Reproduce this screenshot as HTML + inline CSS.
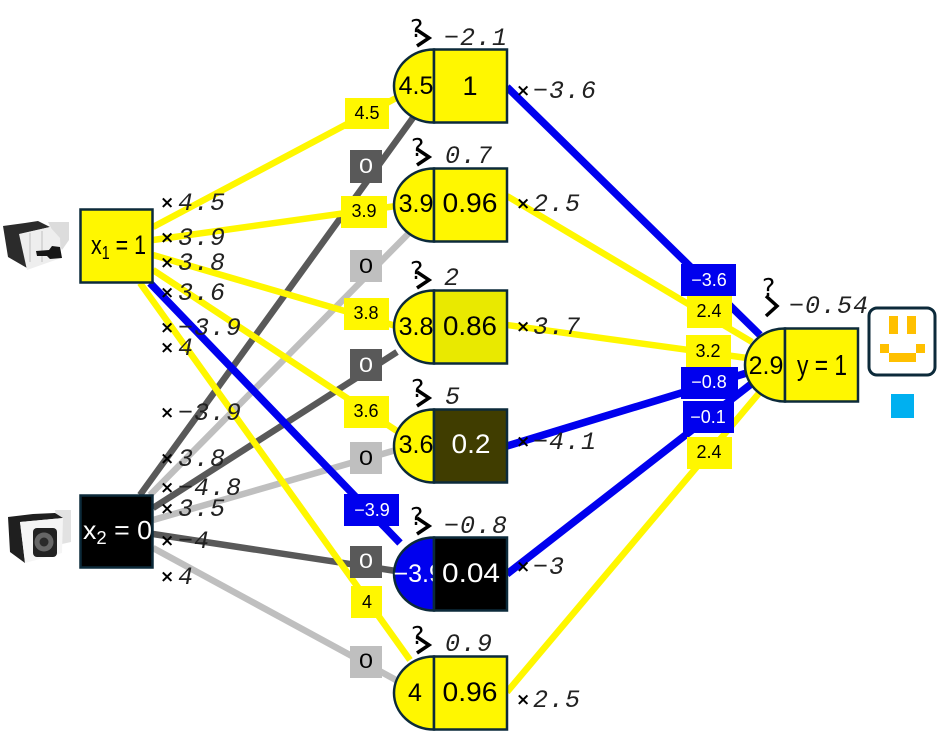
<!DOCTYPE html>
<html><head><meta charset="utf-8"><style>
html,body{margin:0;padding:0;background:#fff;width:937px;height:732px;overflow:hidden}
svg{display:block}
text{font-family:"Liberation Sans",sans-serif}
.w{font-family:"Liberation Mono",monospace;font-style:italic;font-size:25px;letter-spacing:1px;fill:#222}
.x{font-size:17px;font-weight:bold;fill:#000;font-family:"DejaVu Sans",sans-serif}
.q{font-size:25px;fill:#000;font-family:"DejaVu Sans",sans-serif}
.l{font-size:18px;text-anchor:middle}
.z{font-size:21px;text-anchor:middle}
.n{font-size:27px;text-anchor:middle}
.b{font-size:25px;text-anchor:middle}
.e{fill:none;stroke-width:6.500}
.s{fill:none;stroke:#000;stroke-width:3.500}
.st{stroke:#0c2a3a;stroke-width:2.500}
</style></head><body>
<svg width="937" height="732" viewBox="0 0 937 732" xmlns="http://www.w3.org/2000/svg">
<!-- edges -->
<g class="e">
<line x1="140" y1="495" x2="415" y2="115" stroke="#595959"/>
<line x1="150" y1="495" x2="410" y2="232" stroke="#bfbfbf"/>
<line x1="153" y1="508" x2="397" y2="352" stroke="#595959"/>
<line x1="153" y1="520" x2="396" y2="450" stroke="#bfbfbf"/>
<line x1="153" y1="534" x2="396" y2="571" stroke="#595959"/>
<line x1="153" y1="548" x2="396" y2="680" stroke="#bfbfbf"/>
<line x1="153" y1="227" x2="398" y2="97" stroke="#fff700"/>
<line x1="153" y1="240" x2="396" y2="206" stroke="#fff700"/>
<line x1="153" y1="255" x2="396" y2="326" stroke="#fff700"/>
<line x1="153" y1="270" x2="400" y2="433" stroke="#fff700"/>
<line x1="140" y1="283" x2="410" y2="660" stroke="#fff700"/>
<line x1="150" y1="283" x2="400" y2="543" stroke="#0000ee" stroke-width="7.500"/>
<line x1="507" y1="87" x2="760" y2="335" stroke="#0000ee" stroke-width="7.500"/>
<line x1="507" y1="196" x2="752" y2="342" stroke="#fff700"/>
<line x1="507" y1="325" x2="747" y2="358" stroke="#fff700"/>
<line x1="507" y1="446" x2="750" y2="372" stroke="#0000ee" stroke-width="7.500"/>
<line x1="507" y1="574" x2="755" y2="381" stroke="#0000ee" stroke-width="7.500"/>
<line x1="507" y1="692" x2="760" y2="392" stroke="#fff700"/>
</g>
<!-- sensor 1 -->
<g>
<path d="M48 222H69V240L62 250Z" fill="#dcdcdc"/>
<path d="M3 226L25 223L38 221L50 227L20 234L27 268L8 257Z" fill="#2b2b2b"/>
<path d="M19 234L50 227L60 238L61 258L27 270Z" fill="#eeeeee"/>
<path d="M30 233V262M42 231V262" stroke="#cfcfcf" stroke-width="1.500"/>
<path d="M36 251L49 250L52 246L60 247L62 258L50 259L47 256L37 256Z" fill="#151515"/>
</g>
<!-- sensor 2 -->
<g>
<path d="M55 510H71V542L62 544Z" fill="#e2e2e2"/>
<path d="M8 517L33 514L55 513L63 518L20 522L25 563L10 552Z" fill="#1f1f1f"/>
<path d="M20 522L63 518L62 553L25 563Z" fill="#f5f5f5"/>
<rect x="33" y="528" width="24" height="29" rx="4" fill="#222"/>
<circle cx="44" cy="542" r="9.500" fill="#666"/>
<circle cx="44" cy="542" r="4.500" fill="#2a2a2a"/>
</g>
<!-- inputs -->
<rect x="80.500" y="209.500" width="72" height="73" fill="#fff700" class="st"/>
<text x="91" y="254" font-size="27" textLength="55" lengthAdjust="spacingAndGlyphs" fill="#000">x<tspan font-size="18" dy="5">1</tspan><tspan dy="-5"> = 1</tspan></text>
<rect x="80.500" y="495.500" width="72" height="72" fill="#000" class="st"/>
<text x="83" y="539" font-size="26" textLength="69" lengthAdjust="spacingAndGlyphs" fill="#fff">x<tspan font-size="18" dy="5">2</tspan><tspan dy="-5"> = 0</tspan></text>
<!-- neurons -->
<g class="st">
<path d="M434 49.500A40 36.500 0 0 0 434 122.500Z" fill="#fff700"/><rect x="434" y="49.500" width="73" height="73" fill="#fff700"/>
<path d="M434 168.500A40 36.500 0 0 0 434 241.500Z" fill="#fff700"/><rect x="434" y="168.500" width="73" height="73" fill="#fff700"/>
<path d="M434 290.500A40 36.500 0 0 0 434 363.500Z" fill="#fff700"/><rect x="434" y="290.500" width="73" height="73" fill="#e9e900"/>
<path d="M434 409.500A40 36.500 0 0 0 434 482.500Z" fill="#fff700"/><rect x="434" y="409.500" width="73" height="73" fill="#403d00"/>
<path d="M434 537.500A40 36.500 0 0 0 434 610.500Z" fill="#0000ee"/>
<text x="393.500" y="582" font-size="25" fill="#fff" stroke="none">−3.9</text>
<rect x="434" y="537.500" width="73" height="73" fill="#000"/>
<path d="M434 656.500A40 36.500 0 0 0 434 729.500Z" fill="#fff700"/><rect x="434" y="656.500" width="73" height="73" fill="#fff700"/>
<path d="M785 328.500A40 36.500 0 0 0 785 401.500Z" fill="#fff700"/><rect x="785" y="328.500" width="73" height="73" fill="#fff700"/>
</g>
<!-- neuron text -->
<g>
<text class="b" x="416" y="94">4.5</text>
<text class="b" x="416" y="212">3.9</text>
<text class="b" x="416" y="335">3.8</text>
<text class="b" x="416" y="453">3.6</text>
<text class="b" x="415" y="701">4</text>
<text class="b" x="766" y="374">2.9</text>
</g>
<text class="n" x="470" y="95">1</text>
<text class="n" x="470" y="212" textLength="55" lengthAdjust="spacingAndGlyphs">0.96</text>
<text class="n" x="470" y="335" textLength="54" lengthAdjust="spacingAndGlyphs">0.86</text>
<text class="n" x="471" y="453" fill="#fff" textLength="39" lengthAdjust="spacingAndGlyphs">0.2</text>
<text class="n" x="471" y="582" fill="#fff" textLength="58" lengthAdjust="spacingAndGlyphs">0.04</text>
<text class="n" x="470" y="701" textLength="55" lengthAdjust="spacingAndGlyphs">0.96</text>
<text x="822" y="375" font-size="29" text-anchor="middle" textLength="50" lengthAdjust="spacingAndGlyphs">y = 1</text>
<!-- sigma marks -->
<g>
<text class="q" x="410" y="37">?</text><polyline class="s" points="417,30 429,38 417,46"/>
<text class="q" x="411" y="156">?</text><polyline class="s" points="417,149 429,157 417,165"/>
<text class="q" x="410" y="279">?</text><polyline class="s" points="417,272 429,280 417,288"/>
<text class="q" x="411" y="397">?</text><polyline class="s" points="417,390 429,398 417,406"/>
<text class="q" x="410" y="525">?</text><polyline class="s" points="417,518 429,526 417,534"/>
<text class="q" x="411" y="644">?</text><polyline class="s" points="417,637 429,645 417,653"/>
<text class="q" x="762" y="296">?</text><polyline class="s" points="766,296 777,306 766,316"/>
</g>
<!-- bias -->
<g>
<text class="w" x="444" y="45">−2.1</text>
<text class="w" x="445" y="163">0.7</text>
<text class="w" x="444" y="285">2</text>
<text class="w" x="445" y="404">5</text>
<text class="w" x="444" y="533">−0.8</text>
<text class="w" x="445" y="651">0.9</text>
<text class="w" x="789" y="313">−0.54</text>
</g>
<!-- weights -->
<g>
<text class="x" x="160" y="208">×</text><text class="w" x="178" y="210">4.5</text>
<text class="x" x="160" y="243">×</text><text class="w" x="178" y="245">3.9</text>
<text class="x" x="160" y="268">×</text><text class="w" x="178" y="270">3.8</text>
<text class="x" x="160" y="298">×</text><text class="w" x="178" y="300">3.6</text>
<text class="x" x="160" y="333">×</text><text class="w" x="178" y="335">−3.9</text>
<text class="x" x="160" y="353">×</text><text class="w" x="178" y="355">4</text>
<text class="x" x="160" y="418">×</text><text class="w" x="178" y="420">−3.9</text>
<text class="x" x="160" y="464">×</text><text class="w" x="178" y="466">3.8</text>
<text class="x" x="160" y="493">×</text><text class="w" x="178" y="495">−4.8</text>
<text class="x" x="160" y="514">×</text><text class="w" x="178" y="516">3.5</text>
<text class="x" x="160" y="546">×</text><text class="w" x="178" y="548">−4</text>
<text class="x" x="160" y="582">×</text><text class="w" x="178" y="584">4</text>
<text class="x" x="516" y="96">×</text><text class="w" x="533" y="98">−3.6</text>
<text class="x" x="516" y="209">×</text><text class="w" x="533" y="211">2.5</text>
<text class="x" x="516" y="332">×</text><text class="w" x="533" y="334">3.7</text>
<text class="x" x="516" y="447">×</text><text class="w" x="533" y="449">−4.1</text>
<text class="x" x="516" y="572">×</text><text class="w" x="533" y="574">−3</text>
<text class="x" x="516" y="705">×</text><text class="w" x="533" y="707">2.5</text>
</g>
<!-- labels -->
<g>
<rect x="345" y="98" width="44" height="31" fill="#fff700"/><text class="l" x="367" y="119">4.5</text>
<rect x="350" y="150" width="32" height="33" fill="#595959"/><text class="z" x="366" y="173" fill="#fff" textLength="14" lengthAdjust="spacingAndGlyphs">0</text>
<rect x="341" y="196" width="46" height="32" fill="#fff700"/><text class="l" x="364" y="217">3.9</text>
<rect x="350" y="250" width="32" height="32" fill="#bfbfbf"/><text class="z" x="366" y="273" textLength="14" lengthAdjust="spacingAndGlyphs">0</text>
<rect x="344" y="298" width="45" height="32" fill="#fff700"/><text class="l" x="366" y="319">3.8</text>
<rect x="350" y="349" width="32" height="32" fill="#595959"/><text class="z" x="366" y="372" fill="#fff" textLength="14" lengthAdjust="spacingAndGlyphs">0</text>
<rect x="344" y="396" width="45" height="32" fill="#fff700"/><text class="l" x="366" y="417">3.6</text>
<rect x="350" y="442" width="32" height="32" fill="#bfbfbf"/><text class="z" x="366" y="465" textLength="14" lengthAdjust="spacingAndGlyphs">0</text>
<rect x="344" y="494" width="55" height="32" fill="#0000ee"/><text class="l" x="372" y="516" fill="#fff">−3.9</text>
<rect x="350" y="546" width="32" height="32" fill="#595959"/><text class="z" x="366" y="568" fill="#fff" textLength="14" lengthAdjust="spacingAndGlyphs">0</text>
<rect x="351" y="586" width="31" height="32" fill="#fff700"/><text class="l" x="367" y="608">4</text>
<rect x="350" y="646" width="32" height="32" fill="#bfbfbf"/><text class="z" x="366" y="668" textLength="14" lengthAdjust="spacingAndGlyphs">0</text>
<rect x="681" y="264" width="55" height="32" fill="#0000ee"/><text class="l" x="709" y="286" fill="#fff">−3.6</text>
<rect x="687" y="296" width="45" height="32" fill="#fff700"/><text class="l" x="709" y="317">2.4</text>
<rect x="686" y="335" width="45" height="32" fill="#fff700"/><text class="l" x="708" y="357">3.2</text>
<rect x="681" y="367" width="57" height="32" fill="#0000ee"/><text class="l" x="709" y="388" fill="#fff">−0.8</text>
<rect x="683" y="401" width="51" height="32" fill="#0000ee"/><text class="l" x="708" y="423" fill="#fff">−0.1</text>
<rect x="687" y="437" width="45" height="32" fill="#fff700"/><text class="l" x="709" y="458">2.4</text>
</g>
<!-- smiley -->
<rect x="869" y="308" width="66" height="67" rx="8" fill="#fff" stroke="#0c2a3a" stroke-width="3"/>
<g fill="#ffc000">
<rect x="889" y="316" width="9" height="18"/><rect x="907" y="316" width="9" height="18"/>
<rect x="880" y="344" width="9" height="9"/><rect x="916" y="344" width="9" height="9"/>
<rect x="889" y="353" width="27" height="9"/>
</g>
<rect x="891" y="394" width="23" height="24" fill="#00b0f0"/>
</svg>
</body></html>
